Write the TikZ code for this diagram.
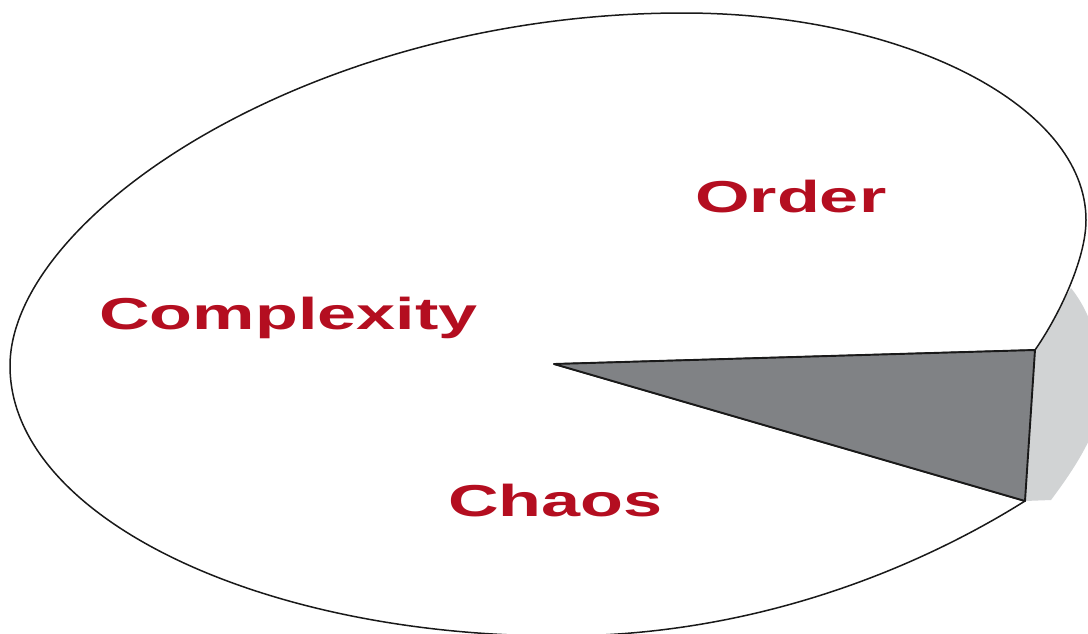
\documentclass[tikz,border=0pt]{standalone}
\usepackage{fontspec}
\setmainfont{Liberation Sans}
\definecolor{labelred}{RGB}{180,14,32}
\definecolor{wedgegray}{RGB}{128,130,133}
\definecolor{sidegray}{RGB}{209,211,212}
\tikzset{
  label/.style={inner sep=0pt, anchor=base west, text=labelred, font=\fontsize{44.7}{50}\selectfont\bfseries},
  outline/.style={draw=black!90, line width=1.5pt, fill=white, line join=round},
  wedge/.style={draw=black!90, line width=1.9pt, fill=wedgegray, line join=round}
}
\newcommand{\widetext}[1]{\scalebox{1.57}[1]{#1}}
\begin{document}
\begin{tikzpicture}[x=1pt,y=-1pt]
\useasboundingbox (0,0) rectangle (1088,633);
\clip (0,0) rectangle (1088,633);
\coordinate (apex) at (554,364);
\coordinate (wtop) at (1035,350);
\coordinate (wbot) at (1025,501);
\coordinate (sidetop) at (1071,288);
\coordinate (sidebot) at (1051,500);
\coordinate (right) at (1086,220);
\coordinate (top) at (683,13);
\coordinate (left) at (10,366);
\coordinate (bottom) at (560,636);
% light grey side face
\fill[sidegray] (sidetop) -- (wtop) -- (wbot) -- (sidebot)
  .. controls (1075,468) and (1100,430) .. (1102,395)
  .. controls (1102,345) and (1090,312) .. (sidetop) -- cycle;
% main disc with the wedge cut out
\path[outline] (wtop)
  .. controls (1058,317) and (1086,260) .. (right)
  .. controls (1086,106) and (905,13) .. (top)
  .. controls (311,13) and (10,216) .. (left)
  .. controls (10,515) and (256,636) .. (bottom)
  .. controls (760,636) and (923,565) .. (wbot)
  -- (apex) -- cycle;
% wedge
\path[wedge] (apex) -- (wtop) -- (wbot) -- cycle;
% labels
\node[label] (order) at (695,212) {\widetext{Order}};
\node[label] (complexity) at (99,329) {\widetext{Complexity}};
\node[label] (chaos) at (448,516) {\widetext{Chaos}};
\end{tikzpicture}
\end{document}
